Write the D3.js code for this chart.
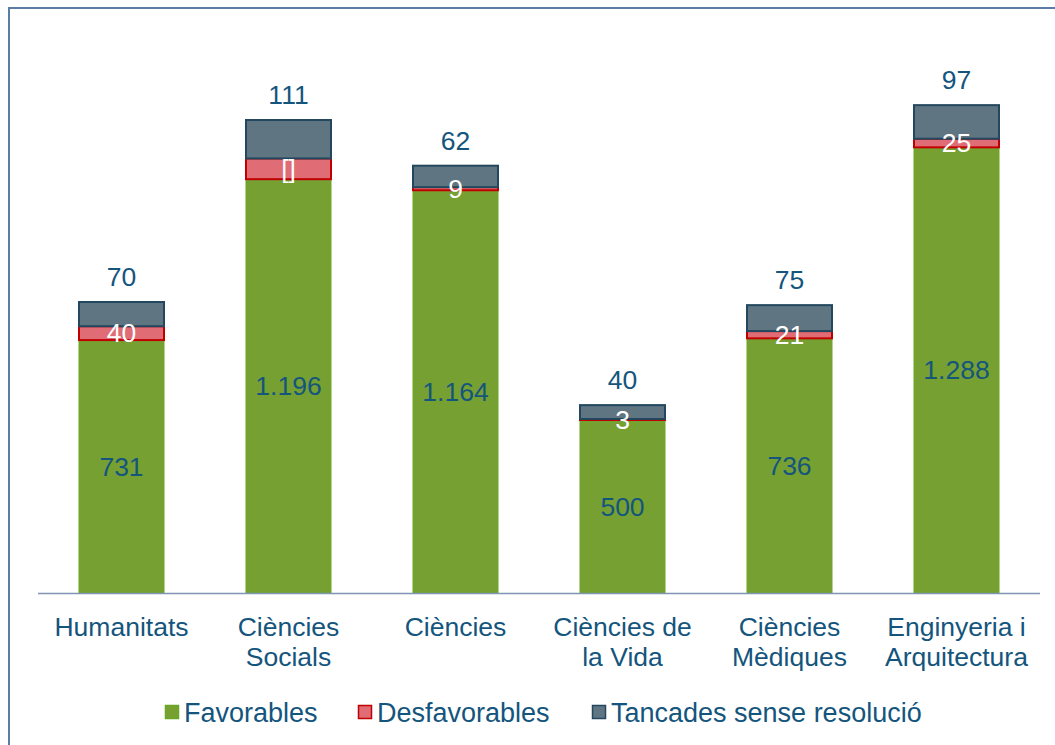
<!DOCTYPE html>
<html>
<head>
<meta charset="utf-8">
<script src="https://cdn.jsdelivr.net/npm/d3@7"></script>
<style>
  body { margin: 0; background: #fff; }
  text { font-family: 'Liberation Sans', Arial, sans-serif; }
</style>
</head>
<body>
<script>
// variables:
var w = 1055
var h = 745
var baseY = 593
var textColor = '#14557d'
var fontSize = '26.5px'

// data
var categories = [['Humanitats'], ['Ciències', 'Socials'], ['Ciències'], ['Ciències de', 'la Vida'], ['Ciències', 'Mèdiques'], ['Enginyeria i', 'Arquitectura']]
var favorables = [731, 1196, 1164, 500, 736, 1288]
var desfavorables = [40, 60, 9, 3, 21, 25]
var desfLabels = ['40', '[]', '9', '3', '21', '25']
var tancades = [70, 111, 62, 40, 75, 97]
var favLabels = ['731', '1.196', '1.164', '500', '736', '1.288']
var seriesNames = ['Favorables', 'Desfavorables', 'Tancades sense resolució']

var fills = ['#77a033', '#e06c75', '#5f7682']
var strokes = ['#6aa824', '#c00000', '#23475e']

var svg = d3.select('body')
  .append('svg')
  .attr('width', w)
  .attr('height', h)

// frame
svg.append('path')
  .attr('d', 'M9,' + h + 'V8H' + w)
  .attr('fill', 'none')
  .attr('stroke', '#5b7ca5')
  .attr('stroke-width', 2)

var idx = d3.range(categories.length)

var xScale = d3.scaleBand()
  .domain(idx)
  .range([38, 1040])
  .paddingInner(0.485)
  .paddingOuter(0.2425)

var yScale = d3.scaleLinear()
  .domain([0, 1500])
  .range([baseY, baseY - 519])

var rows = idx.map(function (i) {
  return { i: i, fav: favorables[i], desf: desfavorables[i], tanc: tancades[i] }
})
var stack = d3.stack().keys(['fav', 'desf', 'tanc'])
var layers = stack(rows)

// draw bars
layers.forEach(function (layer, k) {
  svg.append('g')
    .selectAll('rect')
    .data(layer)
    .enter()
    .append('rect')
    .attr('x', function (d) { return xScale(d.data.i) + 0.5 })
    .attr('y', function (d) { return yScale(d[1]) })
    .attr('width', xScale.bandwidth() - 1)
    .attr('height', function (d) { return Math.max(0.5, yScale(d[0]) - yScale(d[1])) })
    .attr('fill', fills[k])
    .attr('stroke', strokes[k])
    .attr('stroke-width', k === 0 ? 1 : 2)
})

// baseline
svg.append('line')
  .attr('x1', 38).attr('x2', 1040)
  .attr('y1', baseY + 0.5).attr('y2', baseY + 0.5)
  .attr('stroke', '#7f95b3')
  .attr('stroke-width', 1.5)

var cx = function (i) { return xScale(i) + xScale.bandwidth() / 2 }

// labels favorables
svg.append('g').selectAll('text')
  .data(layers[0])
  .enter()
  .append('text')
  .text(function (d, i) { return favLabels[i] })
  .attr('x', function (d, i) { return cx(i) })
  .attr('y', function (d) { return (yScale(d[0]) + yScale(d[1])) / 2 })
  .attr('dy', '0.35em')
  .attr('text-anchor', 'middle')
  .attr('font-size', fontSize)
  .attr('fill', textColor)

// labels desfavorables
svg.append('g').selectAll('text')
  .data(layers[1])
  .enter()
  .append('text')
  .text(function (d, i) { return desfLabels[i] })
  .attr('x', function (d, i) { return cx(i) })
  .attr('y', function (d) { return (yScale(d[0]) + yScale(d[1])) / 2 })
  .attr('dy', '0.35em')
  .attr('text-anchor', 'middle')
  .attr('font-size', fontSize)
  .attr('fill', '#fff')

// labels tancades (above bar)
svg.append('g').selectAll('text')
  .data(layers[2])
  .enter()
  .append('text')
  .text(function (d, i) { return tancades[i] })
  .attr('x', function (d, i) { return cx(i) })
  .attr('y', function (d) { return yScale(d[1]) - 16 })
  .attr('text-anchor', 'middle')
  .attr('font-size', fontSize)
  .attr('fill', textColor)

// category labels
var cat = svg.append('g').selectAll('text')
  .data(categories)
  .enter()
  .append('text')
  .attr('x', function (d, i) { return cx(i) })
  .attr('y', 636)
  .attr('text-anchor', 'middle')
  .attr('font-size', fontSize)
  .attr('fill', textColor)
cat.selectAll('tspan')
  .data(function (d) { return d })
  .enter()
  .append('tspan')
  .attr('x', function () { return d3.select(this.parentNode).attr('x') })
  .attr('dy', function (d, j) { return j === 0 ? 0 : 30 })
  .text(function (d) { return d })

// legend
var legendX = [165, 358, 592]
var lg = svg.append('g').selectAll('g')
  .data(seriesNames)
  .enter()
  .append('g')
  .attr('transform', function (d, i) { return 'translate(' + legendX[i] + ',705)' })
lg.append('rect')
  .attr('x', 0.5).attr('y', 0.5)
  .attr('width', 13).attr('height', 13)
  .attr('fill', function (d, i) { return fills[i] })
  .attr('stroke', function (d, i) { return strokes[i] })
  .attr('stroke-width', 1.5)
lg.append('text')
  .attr('x', 19)
  .attr('y', 17)
  .attr('font-size', '27px')
  .attr('fill', textColor)
  .text(function (d) { return d })
</script>
</body>
</html>
